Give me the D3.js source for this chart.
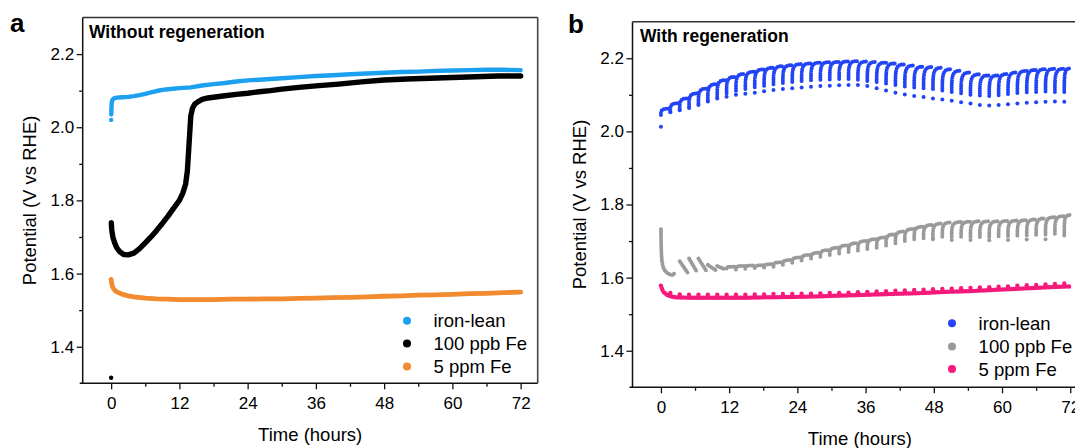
<!DOCTYPE html>
<html><head><meta charset="utf-8">
<script src="https://cdn.jsdelivr.net/npm/d3@7"></script>
<style>body{margin:0;background:#fff;}svg{display:block;}text{font-family:Arial,"Liberation Sans",sans-serif;fill:#000;}</style>
</head><body><svg id="c" width="1075" height="448"></svg>
<script>
// ---------- shared axis / legend content ----------
const xTicks=[0,12,24,36,48,60,72];
const xMinor=[6,18,30,42,54,66];
const yTicks=[1.4,1.6,1.8,2.0,2.2];
const yMinor=[1.5,1.7,1.9,2.1];
const legendLabels=["iron-lean","100 ppb Fe","5 ppm Fe"];
const colorsA=["#1ea0f0","#000000","#f28a30"];
const colorsB=["#2244f5","#9a9a9a","#f5197b"];

// ---------- panel a : without regeneration ----------
const aBlueT=[0.02,0.05,0.1,0.2,0.5,1,2,3,4,5,6,7,8,9,10,12,14,16,18,20,22,24,26,28,30,33,36,39,42,45,48,51,54,57,60,63,66,69,72];
const aBlueV=[2.035,2.05,2.065,2.074,2.079,2.081,2.082,2.083,2.085,2.088,2.091,2.095,2.099,2.102,2.104,2.107,2.109,2.114,2.118,2.121,2.125,2.128,2.13,2.132,2.134,2.137,2.14,2.142,2.145,2.147,2.149,2.151,2.152,2.154,2.155,2.156,2.157,2.157,2.156];
const aBlueFirst=[0,2.02];
const aBlackT=[0.03,0.1,0.3,0.6,1,1.5,2.2,3,4,5,6,7,8,9,10,11,12,12.6,13.1,13.4,13.6,13.8,14.0,14.3,14.7,15.3,16,17,18,20,22,24,26,28,30,33,36,40,44,48,52,56,60,64,68,72];
const aBlackV=[1.739,1.72,1.70,1.685,1.67,1.66,1.652,1.651,1.656,1.668,1.684,1.70,1.718,1.737,1.757,1.779,1.80,1.82,1.845,1.88,1.93,1.98,2.03,2.052,2.063,2.07,2.076,2.08,2.082,2.086,2.09,2.093,2.097,2.10,2.104,2.109,2.113,2.118,2.124,2.129,2.132,2.134,2.136,2.138,2.14,2.14];
const aBlackFirst=[0,1.315];
const aOrangeT=[0,0.1,0.3,0.6,1,2,3,4,6,8,10,12,15,18,21,24,27,30,33,36,39,42,45,48,51,54,57,60,63,66,69,72];
const aOrangeV=[1.584,1.572,1.562,1.555,1.55,1.543,1.539,1.536,1.533,1.531,1.53,1.529,1.529,1.529,1.53,1.53,1.531,1.531,1.532,1.533,1.534,1.535,1.536,1.538,1.539,1.541,1.542,1.543,1.545,1.546,1.548,1.549];

// ---------- panel b : with regeneration (one entry per regeneration cycle) ----------
const cycleT=[0,1.65,3.3,4.95,6.6,8.25,9.9,11.55,13.2,14.85,16.5,18.15,19.8,21.45,23.1,24.75,26.4,28.05,29.7,31.35,33,34.65,36.3,37.95,39.6,41.25,42.9,44.55,46.2,47.85,49.5,51.15,52.8,54.45,56.1,57.75,59.4,61.05,62.7,64.35,66,67.65,69.3,70.95];
const bBlueTop=[2.062,2.077,2.09,2.104,2.117,2.129,2.14,2.149,2.157,2.163,2.169,2.174,2.178,2.181,2.184,2.186,2.188,2.189,2.19,2.191,2.192,2.191,2.19,2.188,2.186,2.183,2.18,2.177,2.176,2.174,2.17,2.166,2.161,2.156,2.153,2.153,2.157,2.161,2.165,2.168,2.17,2.171,2.171,2.172];
const bBlueBot=[2.045,2.055,2.062,2.068,2.076,2.086,2.096,2.104,2.111,2.116,2.121,2.125,2.129,2.132,2.135,2.138,2.14,2.141,2.142,2.143,2.143,2.141,2.138,2.135,2.131,2.127,2.123,2.12,2.118,2.116,2.112,2.108,2.104,2.10,2.098,2.097,2.099,2.102,2.105,2.107,2.108,2.109,2.108,2.108];
const bBlueLow=[2.013,2.052,2.058,2.064,2.072,2.082,2.09,2.095,2.10,2.103,2.106,2.11,2.113,2.116,2.118,2.12,2.122,2.124,2.125,2.126,2.127,2.127,2.124,2.118,2.112,2.106,2.101,2.097,2.094,2.09,2.087,2.084,2.08,2.076,2.072,2.071,2.072,2.074,2.076,2.078,2.08,2.081,2.082,2.081];
const bGrayInitT=[0,0.03,0.08,0.15,0.3,0.6,1.0,1.5,2.0,2.4];
const bGrayInitV=[1.732,1.70,1.67,1.65,1.635,1.622,1.614,1.609,1.607,1.612];
const bGrayStart=[null,null,1.645,1.652,1.652,1.635,1.632,1.625,1.622,1.624,1.626,1.628,1.63,1.635,1.641,1.647,1.652,1.657,1.662,1.666,1.67,1.674,1.678,1.682,1.688,1.694,1.70,1.705,1.708,1.71,1.712,1.712,1.712,1.711,1.711,1.711,1.713,1.714,1.715,1.716,1.717,1.718,1.72,1.722];
const bGrayEnd=[null,null,1.613,1.615,1.618,1.62,1.622,1.63,1.632,1.633,1.634,1.637,1.642,1.648,1.655,1.662,1.668,1.675,1.682,1.688,1.694,1.70,1.705,1.71,1.718,1.726,1.733,1.739,1.744,1.748,1.751,1.752,1.753,1.754,1.754,1.754,1.755,1.756,1.757,1.759,1.762,1.765,1.768,1.771];
const bGrayLow=[null,null,null,null,null,null,null,null,null,null,null,null,null,null,null,null,null,null,null,null,null,null,null,null,null,null,null,null,null,1.705,null,1.703,null,1.703,null,1.702,null,1.703,null,1.704,null,1.705,null,1.715];
const bPinkT=[0,0.3,0.8,1.5,3,6,10,14,18,22,26,30,34,38,42,46,50,54,58,62,66,70,72];
const bPinkV=[1.578,1.565,1.556,1.55,1.546,1.545,1.545,1.545,1.546,1.547,1.548,1.55,1.552,1.554,1.556,1.558,1.561,1.563,1.566,1.569,1.572,1.575,1.576];
const bPinkPeak=[1.578,1.558,1.554,1.553,1.553,1.553,1.553,1.553,1.553,1.553,1.554,1.554,1.555,1.555,1.555,1.556,1.556,1.557,1.558,1.558,1.559,1.560,1.561,1.562,1.563,1.564,1.565,1.566,1.567,1.568,1.569,1.57,1.571,1.572,1.573,1.574,1.575,1.576,1.578,1.579,1.58,1.581,1.583,1.584];

// ---------- drawing ----------
const svg=d3.select("#c");
const FONT='Arial,"Liberation Sans",sans-serif';

function makePanel(left,right,bottom,top){
  return {
    x:d3.scaleLinear().domain([-5,75]).range([left,right]),
    y:d3.scaleLinear().domain([1.3,2.3]).range([bottom,top]),
    left,right,bottom,top
  };
}
const PA=makePanel(82.7,537.7,383.3,17.5);
const PB=makePanel(632.5,1087.3,387.3,21.7);

function drawAxes(P){
  const g=svg.append("g");
  const xa=g.append("g").attr("transform",`translate(0,${P.bottom})`)
    .call(d3.axisBottom(P.x).tickValues(xTicks).tickSize(6).tickPadding(8).tickSizeOuter(0).tickFormat(d3.format("d")));
  const xm=g.append("g").attr("transform",`translate(0,${P.bottom})`)
    .call(d3.axisBottom(P.x).tickValues(xMinor).tickSize(3.5).tickSizeOuter(0).tickFormat(""));
  const ya=g.append("g").attr("transform",`translate(${P.left},0)`)
    .call(d3.axisLeft(P.y).tickValues(yTicks).tickSize(6).tickPadding(2.5).tickSizeOuter(0).tickFormat(d3.format(".1f")));
  const ym=g.append("g").attr("transform",`translate(${P.left},0)`)
    .call(d3.axisLeft(P.y).tickValues(yMinor).tickSize(3.5).tickSizeOuter(0).tickFormat(""));
  [xa,xm,ya,ym].forEach(a=>{
    a.select(".domain").remove();
    a.selectAll("line").attr("stroke","#111").attr("stroke-width",1.3);
    a.selectAll("text").attr("font-size",17).attr("font-family",FONT).attr("fill","#111");
  });
  g.append("line").attr("x1",P.left-3).attr("x2",P.right).attr("y1",P.bottom).attr("y2",P.bottom).attr("stroke","#111").attr("stroke-width",1.5);
  g.append("line").attr("x1",P.left).attr("x2",P.left).attr("y1",P.top).attr("y2",P.bottom).attr("stroke","#111").attr("stroke-width",1.5);
  g.append("line").attr("x1",P.left).attr("x2",P.right).attr("y1",P.top).attr("y2",P.top).attr("stroke","#333").attr("stroke-width",1.5);
  g.append("line").attr("x1",P.right).attr("x2",P.right).attr("y1",P.top).attr("y2",P.bottom).attr("stroke","#444").attr("stroke-width",1.6);
}
drawAxes(PA);
drawAxes(PB);

function lineGen(P,curve){
  return d3.line().x(d=>P.x(d[0])).y(d=>P.y(d[1])).curve(curve||d3.curveLinear);
}
function band(P,T,V,color,w){
  svg.append("path").attr("d",lineGen(P)(d3.zip(T,V)))
    .attr("fill","none").attr("stroke",color).attr("stroke-width",w)
    .attr("stroke-linecap","round").attr("stroke-linejoin","round");
}
function dot(P,pt,color,r){
  svg.append("circle").attr("cx",P.x(pt[0])).attr("cy",P.y(pt[1])).attr("r",r).attr("fill",color);
}
function dotted(P,pts,color,curve,w){
  svg.append("path").attr("d",lineGen(P,curve)(pts))
    .attr("fill","none").attr("stroke",color).attr("stroke-width",w||4)
    .attr("stroke-linecap","round").attr("stroke-dasharray","0 2.3");
}

// panel a series
band(PA,aBlueT,aBlueV,colorsA[0],4.4);
dot(PA,aBlueFirst,colorsA[0],2.2);
band(PA,aBlackT,aBlackV,colorsA[1],5.4);
dot(PA,aBlackFirst,colorsA[1],2.2);
band(PA,aOrangeT,aOrangeV,colorsA[2],4.8);

// panel b series
function cycleEnd(i){return i+1<cycleT.length?cycleT[i+1]:72;}
cycleT.forEach((t0,i)=>{
  const t1=cycleEnd(i);
  dotted(PB,[[t0,bBlueBot[i]],[t0,bBlueTop[i]],[t1,bBlueTop[i]]],colorsB[0],d3.curveBasis);
  dot(PB,[t0,bBlueLow[i]],colorsB[0],2);
});
dotted(PB,d3.zip(bGrayInitT,bGrayInitV),colorsB[1],d3.curveMonotoneX);
cycleT.forEach((t0,i)=>{
  if(bGrayStart[i]==null) return;
  const t1=cycleEnd(i), a=bGrayStart[i], b=bGrayEnd[i];
  if(b>=a) dotted(PB,[[t0,a],[t0,b],[t1,b]],colorsB[1],d3.curveBasis);
  else dotted(PB,[[t0,a],[t1-0.25,b]],colorsB[1]);
  if(bGrayLow[i]!=null) dot(PB,[t0,bGrayLow[i]],colorsB[1],2);
});
dotted(PB,d3.zip(bPinkT,bPinkV),colorsB[2],d3.curveMonotoneX,4.4);
cycleT.forEach((t0,i)=>{ if(i>0) dot(PB,[t0,bPinkPeak[i]],colorsB[2],2.2); });

// legends
function legend(cx,tx,ys,colors){
  legendLabels.forEach((lab,i)=>{
    svg.append("circle").attr("cx",cx).attr("cy",ys[i]).attr("r",4).attr("fill",colors[i]);
    svg.append("text").attr("x",tx).attr("y",ys[i]).attr("dy","0.36em")
      .attr("font-size",18.5).attr("fill","#111").text(lab);
  });
}
legend(407,433.5,[320.7,343.5,366.5],colorsA);
legend(952,978.6,[323.3,346.5,369],colorsB);

// titles & labels
svg.append("text").attr("x",10).attr("y",32).attr("font-size",26).attr("font-weight","bold").text("a");
svg.append("text").attr("x",568).attr("y",33).attr("font-size",26).attr("font-weight","bold").text("b");
svg.append("text").attr("x",89).attr("y",37.5).attr("font-size",17.5).attr("font-weight","bold").text("Without regeneration");
svg.append("text").attr("x",640).attr("y",42).attr("font-size",17.5).attr("font-weight","bold").text("With regeneration");
svg.append("text").attr("x",(PA.left+PA.right)/2).attr("y",441).attr("text-anchor","middle").attr("font-size",18.5).attr("fill","#111").text("Time (hours)");
svg.append("text").attr("x",(PB.left+PB.right)/2).attr("y",445).attr("text-anchor","middle").attr("font-size",18.5).attr("fill","#111").text("Time (hours)");
svg.append("text").attr("transform",`translate(36,${(PA.top+PA.bottom)/2}) rotate(-90)`).attr("text-anchor","middle").attr("font-size",18.5).attr("fill","#111").text("Potential (V vs RHE)");
svg.append("text").attr("transform",`translate(586,${(PB.top+PB.bottom)/2}) rotate(-90)`).attr("text-anchor","middle").attr("font-size",18.5).attr("fill","#111").text("Potential (V vs RHE)");
</script></body></html>
